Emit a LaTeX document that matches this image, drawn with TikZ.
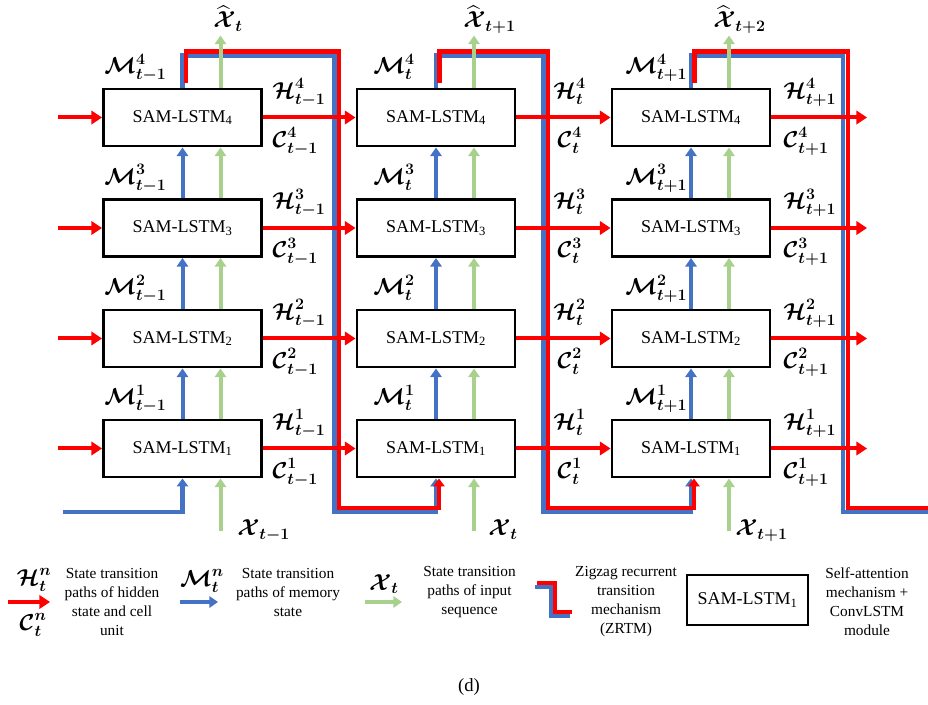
\documentclass[tikz,border=0pt]{standalone}
\usepackage{amsmath}
\usepackage{bm}
\usepackage{fontspec}
\setmainfont{Liberation Serif}
\usetikzlibrary{arrows.meta,calc}
\definecolor{zred}{RGB}{255,0,0}
\definecolor{zblue}{RGB}{68,114,196}
\definecolor{zgreen}{RGB}{169,209,142}
\begin{document}
\begin{tikzpicture}[x=0.75pt,y=-0.75pt,
  cell/.style={draw, line width=2.2pt, minimum width=118.5pt, minimum height=42.75pt, inner sep=0pt, font=\fontsize{13.5}{16}\selectfont},
  redarr/.style={draw=zred, line width=3pt, -{Triangle[length=8pt,width=10pt]}},
  bluearr/.style={draw=zblue, line width=3pt, -{Triangle[length=6.5pt,width=8.5pt]}},
  greenarr/.style={draw=zgreen, line width=3pt, -{Triangle[length=6.5pt,width=8.5pt]}},
  zzblue/.style={draw=zblue, line width=3.4pt},
  zzred/.style={draw=zred, line width=3.4pt},
  lab/.style={inner sep=0pt, font=\fontsize{18}{21}\selectfont},
  legtext/.style={align=center, inner sep=0pt, font=\fontsize{11.5}{14.25}\selectfont},
]
\useasboundingbox (0,0) rectangle (928,705);

% boxes
\foreach \c/\x in {1/182.5,2/436,3/691}
  \foreach \r/\y in {1/448.5,2/338.5,3/228,4/117.5}
    \node[cell] (b\c\r) at (\x,\y) {SAM-LSTM\textsubscript{\r}};

% zigzag paths
\coordinate (s0) at (63,512);
\draw[zzblue, -{Triangle[length=6pt,width=8.5pt]}] (s0) -| (b11.south);
\coordinate (v1b) at (334.5,512);
\coordinate (v1r) at (339,508);
\coordinate (v2b) at (543.5,512);
\coordinate (v2r) at (548,508);
\coordinate (v3b) at (843,512);
\coordinate (v3r) at (848,508);
\coordinate (e3b) at (928,512);
\coordinate (e3r) at (928,508);
\draw[zzblue, -{Triangle[length=6pt,width=8.5pt]}] (b14.north) -- ++(0,-32) -| (v1b) -| (b21.south);
\draw[zzred, -{Triangle[length=6pt,width=8.5pt]}] ($(b14.north)+(3.5,-5)$) -- ++(0,-31) -| (v1r) -| ($(b21.south)+(3,0)$);
\draw[zzblue, -{Triangle[length=6pt,width=8.5pt]}] (b24.north) -- ++(0,-32) -| (v2b) -| (b31.south);
\draw[zzred, -{Triangle[length=6pt,width=8.5pt]}] ($(b24.north)+(3.5,-5)$) -- ++(0,-31) -| (v2r) -| ($(b31.south)+(3,0)$);
\draw[zzblue] (b34.north) -- ++(0,-32) -| (v3b) -- (e3b);
\draw[zzred] ($(b34.north)+(3.5,-5)$) -- ++(0,-31) -| (v3r) -- (e3r);

% vertical arrows between rows
\foreach \c in {1,2,3}{
  \foreach \r/\n in {1/2,2/3,3/4}{
    \draw[bluearr] (b\c\r.north) -- (b\c\n.south);
    \draw[greenarr] ($(b\c\r.north)+(38,0)$) -- ($(b\c\n.south)+(38,0)$);
  }
  \coordinate (gt\c) at ($(b\c4.north)+(38,-52)$);
  \coordinate (gb\c) at ($(b\c1.south)+(38,53)$);
  \draw[greenarr] ($(b\c4.north)+(38,0)$) -- (gt\c);
  \draw[greenarr] (gb\c) -- ($(b\c1.south)+(38,0)$);
}

% red horizontal arrows
\foreach \r/\y in {1/448.5,2/338.5,3/228,4/117.5}{
  \coordinate (rl\r) at (58,\y);
  \coordinate (rr\r) at (867,\y);
  \draw[redarr] (rl\r) -- (b1\r.west);
  \draw[redarr] (b1\r.east) -- (b2\r.west);
  \draw[redarr] (b2\r.east) -- (b3\r.west);
  \draw[redarr] (b3\r.east) -- (rr\r);
}

% labels
\foreach \c/\mx/\hx/\ccx/\s in {1/104/272/272/{t-1}, 2/373/553/557/t, 3/625/783/783/{t+1}}{
  \foreach \r/\y in {1/448.5,2/338.5,3/228,4/117.5}{
    \node[lab, anchor=base west] (m\c\r) at (\mx,\y-43.5) {$\bm{\mathcal{M}^{\r}_{\s}}$};
    \node[lab, anchor=base west] (h\c\r) at (\hx,\y-19) {$\bm{\mathcal{H}^{\r}_{\s}}$};
    \node[lab, anchor=base west] (k\c\r) at (\ccx,\y+30) {$\bm{\mathcal{C}^{\r}_{\s}}$};
  }
}
\node[lab, anchor=base west] (xh1) at (213,28) {$\bm{\widehat{\mathcal{X}}_{t}}$};
\node[lab, anchor=base west] (xh2) at (463,28) {$\bm{\widehat{\mathcal{X}}_{t+1}}$};
\node[lab, anchor=base west] (xh3) at (713,28) {$\bm{\widehat{\mathcal{X}}_{t+2}}$};
\node[lab, anchor=base west] (xi1) at (237,536) {$\bm{\mathcal{X}_{t-1}}$};
\node[lab, anchor=base west] (xi2) at (488,536) {$\bm{\mathcal{X}_{t}}$};
\node[lab, anchor=base west] (xi3) at (735,536) {$\bm{\mathcal{X}_{t+1}}$};

% legend
\node[lab] (lh) at (34,580) {$\bm{\mathcal{H}^{n}_{t}}$};
\coordinate (la1) at (8,602); \coordinate (la2) at (50,602);
\draw[redarr] (la1) -- (la2);
\node[lab] (lc) at (33,625) {$\bm{\mathcal{C}^{n}_{t}}$};
\node[legtext] (t1) at (112,601.5) {State transition\\paths of hidden\\state and cell\\unit};

\node[lab] (lm) at (202,581) {$\bm{\mathcal{M}^{n}_{t}}$};
\coordinate (lb1) at (180,602); \coordinate (lb2) at (218,602);
\draw[bluearr] (lb1) -- (lb2);
\node[legtext] (t2) at (288,592) {State transition\\paths of memory\\state};

\node[lab] (lx) at (384,584) {$\bm{\mathcal{X}_{t}}$};
\coordinate (lg1) at (365,602); \coordinate (lg2) at (402,602);
\draw[greenarr] (lg1) -- (lg2);
\node[legtext] (t3) at (469.5,592) {State transition\\paths of input\\sequence};

\draw[zzblue] (535,587) -- (551,587) -- (551,616) -- (570,616);
\draw[zzred] (537,583) -- (555,583) -- (555,612) -- (572,612);
\node[legtext] (t4) at (626,601.5) {Zigzag recurrent\\transition\\mechanism\\(ZRTM)};

\node[cell, minimum width=90.75pt, minimum height=37.5pt] (lbox) at (747.5,600) {SAM-LSTM\textsubscript{1}};
\node[legtext] (t5) at (867,601.5) {Self-attention\\mechanism +\\ConvLSTM\\module};

\node[inner sep=0pt, font=\fontsize{14}{16}\selectfont] (cap) at (469,687) {(d)};
\end{tikzpicture}
\end{document}
